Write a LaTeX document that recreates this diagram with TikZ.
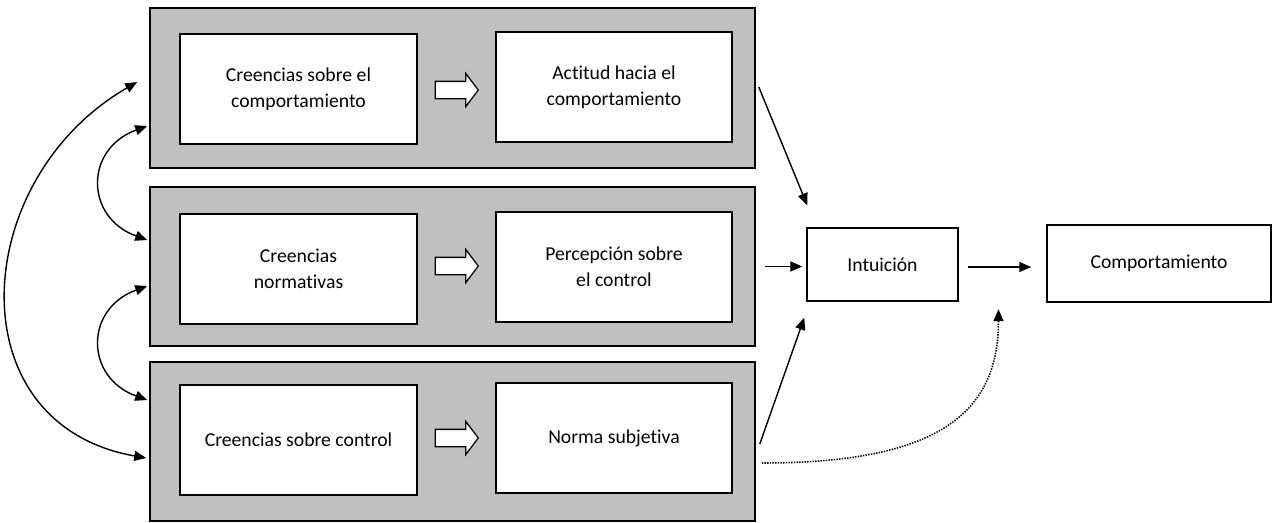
\documentclass[tikz,border=0pt]{standalone}
\usepackage{fontspec}
\setmainfont[Ligatures={NoCommon}]{Carlito}
\usetikzlibrary{arrows.meta,shapes.arrows,calc}
\definecolor{panelgray}{RGB}{192,192,192}
\tikzset{
  panel/.style={draw,fill=panelgray,line width=1pt,minimum width=15.125cm,minimum height=4cm},
  whitebox/.style={draw,fill=white,line width=1pt,align=center,inner sep=0pt,
    font={\fontsize{14}{18.5}\selectfont}},
  hollowarrow/.style={draw,fill=white,line width=0.9pt,single arrow,single arrow head extend=0.2cm,
    single arrow tip angle=106,minimum height=1.075cm,inner xsep=0pt,inner ysep=0.2cm},
  link/.style={line width=1pt,-{Triangle[length=0.3cm,width=0.25cm]}},
  twolink/.style={line width=1pt,{Triangle[length=0.3cm,width=0.25cm]}-{Triangle[length=0.3cm,width=0.25cm]}}
}
\begin{document}
\begin{tikzpicture}[x=0.025cm,y=-0.025cm]
  \useasboundingbox (0,0) rectangle (1272,522);
  \node[panel] (panelA) at (452.5,88) {};
  \node[panel,minimum height=3.975cm] (panelB) at (452.5,266.5) {};
  \node[panel,minimum height=3.975cm] (panelC) at (452.5,441.5) {};
  \node[whitebox,minimum width=5.925cm,minimum height=2.75cm] (creA) at (298.5,89) {Creencias sobre el\\comportamiento};
  \node[whitebox,minimum width=5.925cm,minimum height=2.75cm] (creB) at (298.5,269) {Creencias\\normativas};
  \node[whitebox,minimum width=5.925cm,minimum height=2.75cm] (creC) at (298.5,440) {Creencias sobre control};
  \node[whitebox,minimum width=5.9cm,minimum height=2.75cm] (actA) at (614,87) {Actitud hacia el\\comportamiento};
  \node[whitebox,minimum width=5.9cm,minimum height=2.75cm] (actB) at (614,267) {Percepción sobre\\el control};
  \node[whitebox,minimum width=5.9cm,minimum height=2.75cm] (actC) at (614,438) {Norma subjetiva};
  \node[hollowarrow] (arrA) at ($(creA.east)!0.5!(actA.west)+(-3,2)$) {};
  \node[hollowarrow] (arrB) at ($(creB.east)!0.5!(actB.west)+(-3,-2)$) {};
  \node[hollowarrow] (arrC) at ($(creC.east)!0.5!(actC.west)+(-3,-1)$) {};
  \node[whitebox,minimum width=3.775cm,minimum height=1.825cm] (intu) at (882.5,264.5) {Intuición};
  \node[whitebox,minimum width=5.6cm,minimum height=1.925cm] (comp) at (1159,263.5) {Comportamiento};
  \draw[link] ($(panelA.east)+(3,-1)$) -- ($(intu.north west)+(1,-22)$);
  \draw[link] ($(panelB.east)+(9,0)$) -- ($(intu.west)+(-4,2)$);
  \draw[link] ($(panelC.east)+(4,2.5)$) -- ($(intu.south west)+(-2,16)$);
  \draw[link] ($(intu.east)+(9,2.5)$) -- ($(comp.west)+(-15,3.5)$);
  \draw[link,line width=1.1pt,dash pattern=on 1pt off 0.9pt] ($(panelC.east)+(6,21.5)$) .. controls +(175,0) and +(0,105) .. ($(intu.south east)!0.5!(comp.south west)+(-4,7)$);
  \draw[twolink] ($(panelA.west)+(-2,38)$) to[out=200,in=160,looseness=1.5] ($(panelB.west)+(-2,-26.5)$);
  \draw[twolink] ($(panelB.west)+(-2,19.5)$) to[out=200,in=160,looseness=1.5] ($(panelC.west)+(-2,-41.5)$);
  \draw[twolink] ($(panelA.west)+(-12,-6)$) to[out=210,in=170,looseness=1.32] ($(panelC.west)+(-3,16.5)$);
\end{tikzpicture}
\end{document}
